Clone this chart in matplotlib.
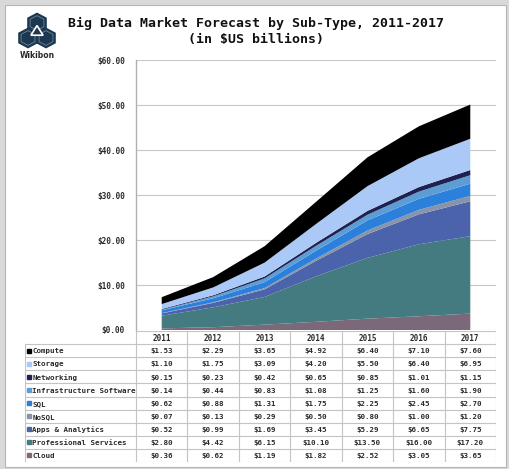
import numpy as np
import matplotlib.pyplot as plt
from matplotlib.patches import Rectangle, RegularPolygon

years = ['2011', '2012', '2013', '2014', '2015', '2016', '2017']

# table order, top to bottom (stacking is the reverse)
names = ['Compute', 'Storage', 'Networking', 'Infrastructure Software', 'SQL',
         'NoSQL', 'Apps & Analytics', 'Professional Services', 'Cloud']
compute = [1.53, 2.29, 3.65, 4.92, 6.40, 7.10, 7.60]
storage = [1.10, 1.75, 3.09, 4.20, 5.50, 6.40, 6.95]
networking = [0.15, 0.23, 0.42, 0.65, 0.85, 1.01, 1.15]
infra = [0.14, 0.44, 0.83, 1.08, 1.25, 1.60, 1.90]
sql = [0.62, 0.88, 1.31, 1.75, 2.25, 2.45, 2.70]
nosql = [0.07, 0.13, 0.29, 0.50, 0.80, 1.00, 1.20]
apps = [0.52, 0.99, 1.69, 3.45, 5.29, 6.65, 7.75]
services = [2.80, 4.42, 6.15, 10.10, 13.50, 16.00, 17.20]
cloud = [0.36, 0.62, 1.19, 1.82, 2.52, 3.05, 3.65]
series = [compute, storage, networking, infra, sql, nosql, apps, services, cloud]
colors = ['#000000', '#abc9f6', '#1f2150', '#5c9dd6', '#2b80dc',
          '#8a94a8', '#4a63ab', '#437b80', '#7b6878']

W, H = 510, 469
mono = 'DejaVu Sans Mono'
txt = '#2a2a2a'
grid_c = '#c8c8c8'

fig = plt.figure(figsize=(W / 100, H / 100), dpi=100)
fig.patch.set_facecolor('#d9d9d9')
fig.patches.append(Rectangle((5 / W, 1 - 467 / H), 501 / W, 462 / H,
                             transform=fig.transFigure, facecolor='white',
                             edgecolor='#b5b5b5', lw=0.8, zorder=-5))

# logo: three navy hexagons with a thin white inner outline
for cx, cy in [(37, 23), (28, 38), (46, 38)]:
    fig.patches.append(RegularPolygon((cx / W, 1 - cy / H), 6, radius=10.5 / W,
                                      orientation=0, transform=fig.transFigure,
                                      facecolor='#1c3850', edgecolor='#1c3850'))
for cx, cy in [(37, 23), (28, 38), (46, 38)]:
    fig.patches.append(RegularPolygon((cx / W, 1 - cy / H), 6, radius=8 / W,
                                      orientation=0, transform=fig.transFigure,
                                      facecolor='none', edgecolor='#7d93a6',
                                      lw=0.5))
fig.patches.append(RegularPolygon((37 / W, 1 - 32 / H), 3, radius=7 / W,
                                  transform=fig.transFigure, facecolor='#1c3850',
                                  edgecolor='white', lw=1.2))
fig.text(37 / W, 1 - 55 / H, 'Wikibon', ha='center', va='center',
         fontsize=5.5, family='DejaVu Sans', weight='bold', color=txt)

fig.text(256 / W, 1 - 23 / H, 'Big Data Market Forecast by Sub-Type, 2011-2017',
         ha='center', va='center', fontsize=9.5, family=mono, weight='bold',
         color='#111111')
fig.text(256 / W, 1 - 40 / H, '(in $US billions)', ha='center', va='center',
         fontsize=9.5, family=mono, weight='bold', color='#111111')

# chart
ax = fig.add_axes([136 / W, 1 - 330 / H, 360 / W, 270 / H])
x = np.arange(len(years))
ax.stackplot(x, *series[::-1], colors=colors[::-1], lw=0)
ax.set_xlim(-0.5, 6.5)
ax.set_ylim(0, 60)
ax.set_yticks(np.arange(0, 61, 10))
ax.set_yticklabels(['$%.2f' % v for v in np.arange(0, 61, 10)],
                   fontsize=5.6, family=mono, weight='bold', color=txt)
ax.set_xticks([])
ax.tick_params(axis='y', length=0, pad=8)
ax.grid(axis='y', color=grid_c, lw=0.8)
ax.set_axisbelow(True)
for s in ['top', 'right', 'bottom']:
    ax.spines[s].set_visible(False)
ax.spines['left'].set_color('#b0b0b0')
ax.spines['left'].set_linewidth(1)

# data table
lx = -0.5 - (136 - 25) / (360 / 7)
tax = fig.add_axes([25 / W, 1 - 462 / H, 471 / W, 131 / H])
tax.set_xlim(lx, 6.5)
tax.set_ylim(10, 0)
tax.axis('off')
lc = '#c4c4c4'
tax.plot([-0.5, 6.5], [0, 0], color=lc, lw=0.8)
for r in range(1, 11):
    tax.plot([lx, 6.5], [r, r], color=lc, lw=0.8)
for k in range(8):
    tax.plot([k - 0.5, k - 0.5], [0, 10], color=lc, lw=0.8)
tax.plot([lx, lx], [1, 10], color=lc, lw=0.8)
for j, yr in enumerate(years):
    tax.text(j, 0.55, yr, ha='center', va='center', fontsize=5.5,
             family=mono, weight='bold', color=txt)
for i, (name, vals, c) in enumerate(zip(names, series, colors)):
    yc = i + 1.55
    tax.plot(lx + 0.07, yc - 0.05, marker='s', ms=2.8, color=c, mec=c)
    tax.text(lx + 0.14, yc, name, ha='left', va='center', fontsize=5.4,
             family=mono, weight='bold', color=txt)
    for j, v in enumerate(vals):
        tax.text(j, yc, '$%.2f' % v, ha='center', va='center', fontsize=5.4,
                 family=mono, weight='bold', color=txt)

fig.savefig('out.png', dpi=100, facecolor=fig.get_facecolor())
